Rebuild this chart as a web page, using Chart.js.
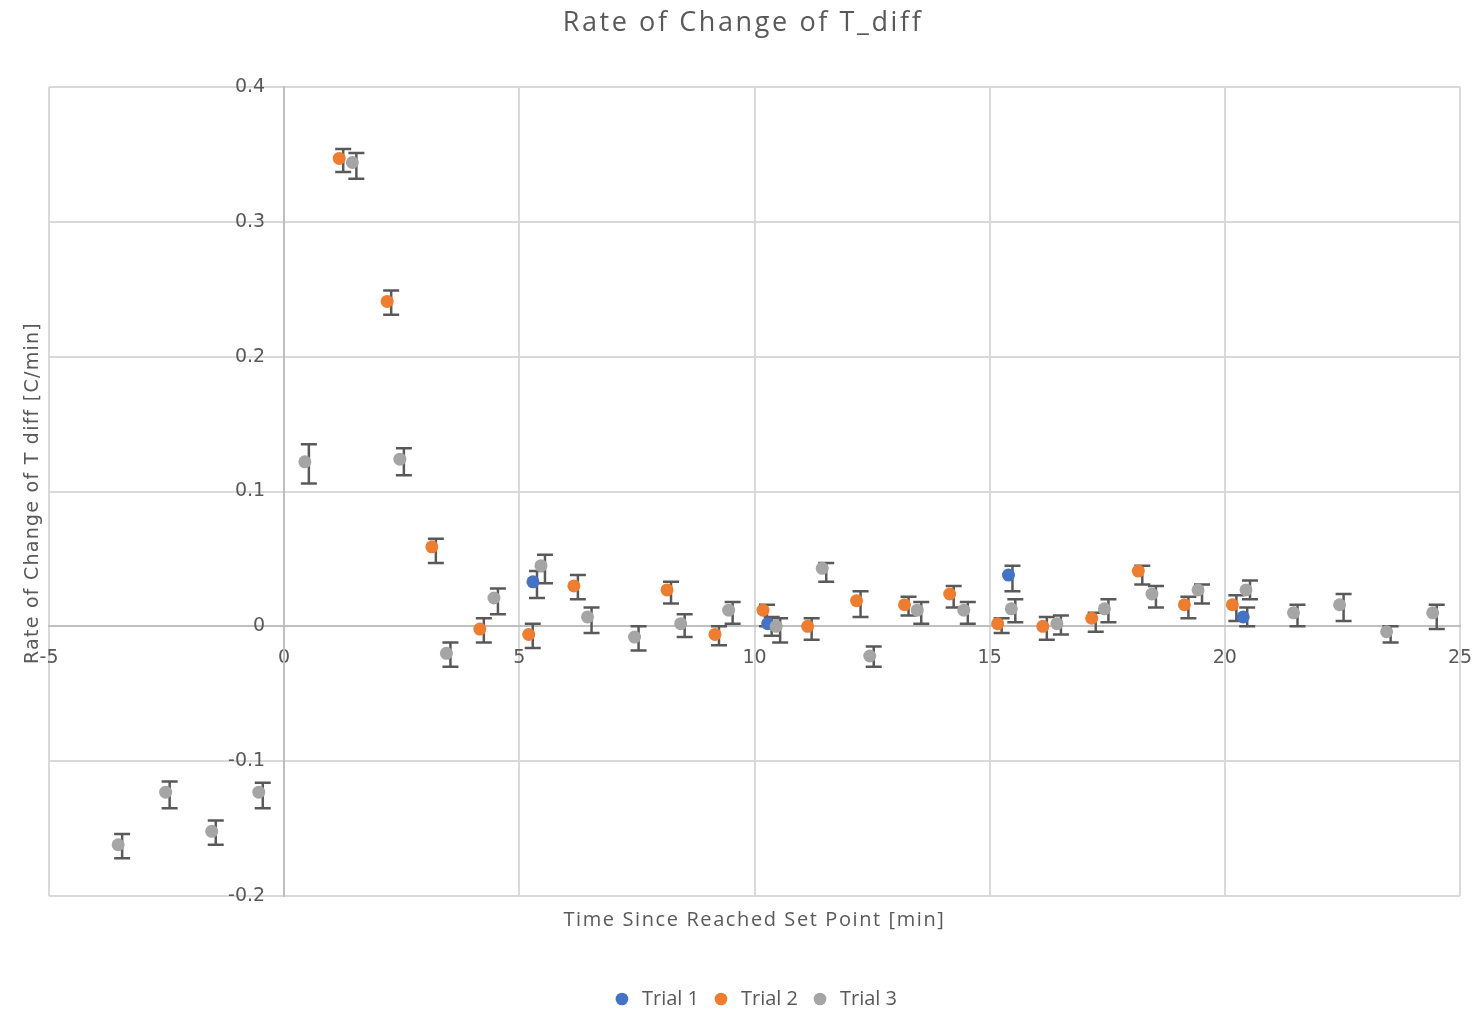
<!DOCTYPE html>
<html>
<head>
<meta charset="utf-8">
<title>Rate of Change of T_diff</title>
<script src="https://cdn.jsdelivr.net/npm/chart.js@4/dist/chart.umd.min.js"></script>
<style>
  html, body { margin: 0; padding: 0; background: #ffffff; }
  #wrap { width: 1476px; height: 1010px; position: relative; }
</style>
</head>
<body>
<div id="wrap"><canvas id="chart" width="1476" height="1010"></canvas></div>
<script>
// Series: time since set point [min], rate of change [C/min], and error bar extents
const trial1X = [5.29, 10.28, 15.40, 20.39];
const trial1Y = [0.033, 0.002, 0.038, 0.007];
const trial1ErrPlus = [0.008, 0.005, 0.007, 0.007];
const trial1ErrMinus = [0.012, 0.009, 0.012, 0.007];

const trial2X = [1.17, 2.19, 3.14, 4.16, 5.20, 6.16, 8.14, 9.16, 10.18, 11.13, 12.17, 13.19, 14.15, 15.17, 16.13, 17.17, 18.16, 19.14, 20.16];
const trial2Y = [0.347, 0.241, 0.059, -0.002, -0.006, 0.030, 0.027, -0.006, 0.012, 0.000, 0.019, 0.016, 0.024, 0.002, 0.000, 0.006, 0.041, 0.016, 0.016];
const trial2ErrPlus = [0.007, 0.008, 0.006, 0.008, 0.008, 0.008, 0.006, 0.006, 0.004, 0.006, 0.007, 0.006, 0.006, 0.004, 0.007, 0.004, 0.004, 0.006, 0.007];
const trial2ErrMinus = [0.010, 0.010, 0.012, 0.010, 0.010, 0.010, 0.010, 0.008, 0.012, 0.010, 0.012, 0.008, 0.010, 0.007, 0.010, 0.010, 0.010, 0.010, 0.012];

const trial3X = [-3.53, -2.52, -1.54, -0.54, 0.44, 1.45, 2.46, 3.45, 4.46, 5.46, 6.45, 7.45, 8.43, 9.45, 10.46, 11.44, 12.45, 13.46, 14.45, 15.46, 16.43, 17.44, 18.45, 19.43, 20.45, 21.46, 22.44, 23.44, 24.42];
const trial3Y = [-0.162, -0.123, -0.152, -0.123, 0.122, 0.344, 0.124, -0.020, 0.021, 0.045, 0.007, -0.008, 0.002, 0.012, 0.000, 0.043, -0.022, 0.012, 0.012, 0.013, 0.002, 0.013, 0.024, 0.027, 0.027, 0.010, 0.016, -0.004, 0.010];
const trial3ErrPlus = [0.008, 0.008, 0.008, 0.007, 0.013, 0.007, 0.008, 0.008, 0.007, 0.008, 0.007, 0.008, 0.007, 0.006, 0.006, 0.004, 0.007, 0.006, 0.006, 0.007, 0.006, 0.007, 0.006, 0.004, 0.007, 0.006, 0.008, 0.004, 0.006];
const trial3ErrMinus = [0.010, 0.012, 0.010, 0.012, 0.016, 0.012, 0.012, 0.010, 0.012, 0.013, 0.012, 0.010, 0.010, 0.010, 0.012, 0.010, 0.008, 0.010, 0.010, 0.010, 0.008, 0.010, 0.010, 0.010, 0.007, 0.010, 0.012, 0.008, 0.012];

const seriesNames = ['Trial 1', 'Trial 2', 'Trial 3'];
const seriesColors = ['#4472C4', '#ED7D31', '#A5A5A5'];

const xTicks = [-5, 0, 5, 10, 15, 20, 25];
const yTicks = [-0.2, -0.1, 0, 0.1, 0.2, 0.3, 0.4];

const chartTitle = 'Rate of Change of T_diff';
const xAxisTitle = 'Time Since Reached Set Point [min]';
const yAxisTitle = 'Rate of Change of T diff [C/min]';

const textColor = '#595959';
const gridColor = '#d9d9d9';
const axisColor = '#bfbfbf';

function toPoints(xs, ys) {
  return xs.map((x, i) => ({ x: x, y: ys[i] }));
}

// Vertical error bars with caps, drawn beneath the markers
const errorBarPlugin = {
  id: 'errorBars',
  beforeDatasetsDraw(chart) {
    const ctx = chart.ctx;
    const xs = chart.scales.x;
    const ys = chart.scales.y;
    const capHalf = 8;
    const shift = 4;
    ctx.save();
    ctx.strokeStyle = '#595959';
    ctx.lineWidth = 2.5;
    ctx.lineCap = 'butt';
    chart.data.datasets.forEach((ds, di) => {
      if (!chart.isDatasetVisible(di) || !ds.errorBars) return;
      ds.data.forEach((p, i) => {
        const px = xs.getPixelForValue(p.x) + shift;
        const top = ys.getPixelForValue(p.y + ds.errorBars.plus[i]);
        const bot = ys.getPixelForValue(p.y - ds.errorBars.minus[i]);
        ctx.beginPath();
        ctx.moveTo(px, top);
        ctx.lineTo(px, bot);
        ctx.moveTo(px - capHalf, top);
        ctx.lineTo(px + capHalf, top);
        ctx.moveTo(px - capHalf, bot);
        ctx.lineTo(px + capHalf, bot);
        ctx.stroke();
      });
    });
    ctx.restore();
  }
};

// Chart title and axis titles, set around the plot area with loose letter spacing
const titlesPlugin = {
  id: 'titles',
  afterDraw(chart) {
    const ctx = chart.ctx;
    const area = chart.chartArea;
    const cx = (area.left + area.right) / 2;
    ctx.save();
    ctx.fillStyle = textColor;
    ctx.textAlign = 'center';
    ctx.textBaseline = 'middle';

    ctx.font = '27px "Open Sans"';
    ctx.letterSpacing = '2.6px';
    ctx.fillText(chartTitle, chart.width / 2 + 5, 23);

    ctx.font = '20px "Open Sans"';
    ctx.letterSpacing = '1.6px';
    ctx.fillText(xAxisTitle, cx, area.bottom + 24);

    ctx.translate(33, 493);
    ctx.rotate(-Math.PI / 2);
    ctx.font = '19px "DejaVu Sans"';
    ctx.letterSpacing = '1.25px';
    ctx.fillText(yAxisTitle, 0, 0);
    ctx.restore();
  }
};

const datasets = [
  { x: trial1X, y: trial1Y, plus: trial1ErrPlus, minus: trial1ErrMinus },
  { x: trial2X, y: trial2Y, plus: trial2ErrPlus, minus: trial2ErrMinus },
  { x: trial3X, y: trial3Y, plus: trial3ErrPlus, minus: trial3ErrMinus }
].map((s, i) => ({
  label: seriesNames[i],
  data: toPoints(s.x, s.y),
  errorBars: { plus: s.plus, minus: s.minus },
  backgroundColor: seriesColors[i],
  borderColor: seriesColors[i],
  borderWidth: 0,
  pointRadius: 6.5,
  pointHoverRadius: 6.5,
  showLine: false,
  order: 3 - i
}));

// Axes cross at zero, so the edge padding for tick labels is not needed
const noEdgePadding = (scale) => {
  scale.paddingLeft = 0;
  scale.paddingRight = 0;
  scale.paddingTop = 0;
  scale.paddingBottom = 0;
};

new Chart(document.getElementById('chart'), {
  type: 'scatter',
  data: { datasets: datasets },
  plugins: [errorBarPlugin, titlesPlugin],
  options: {
    responsive: false,
    animation: false,
    layout: { padding: { left: 49, right: 16, top: 87, bottom: -9 } },
    plugins: {
      title: { display: false },
      legend: {
        display: true,
        position: 'bottom',
        title: {
          display: true,
          text: ' ',
          font: { size: 10 },
          padding: { top: 0, bottom: 69 }
        },
        labels: {
          usePointStyle: true,
          pointStyle: 'circle',
          boxHeight: 9,
          color: textColor,
          font: { family: 'Open Sans', size: 20 },
          padding: 12,
          sort: (a, b) => a.datasetIndex - b.datasetIndex
        }
      },
      tooltip: { enabled: false }
    },
    scales: {
      x: {
        type: 'linear',
        min: xTicks[0],
        max: xTicks[xTicks.length - 1],
        position: { y: 0 },
        afterBuildTicks: (axis) => { axis.ticks = xTicks.map(v => ({ value: v })); },
        afterFit: noEdgePadding,
        ticks: {
          color: textColor,
          font: { family: 'DejaVu Sans', size: 19 },
          padding: 20,
          maxRotation: 0,
          callback: (v) => String(v)
        },
        grid: {
          color: (c) => (c.tick && c.tick.value === 0 ? axisColor : gridColor),
          lineWidth: 2,
          drawTicks: false
        },
        border: { color: axisColor, width: 2 }
      },
      y: {
        type: 'linear',
        min: yTicks[0],
        max: yTicks[yTicks.length - 1],
        position: { x: 0 },
        afterBuildTicks: (axis) => { axis.ticks = yTicks.map(v => ({ value: v })); },
        afterFit: noEdgePadding,
        ticks: {
          color: textColor,
          font: { family: 'DejaVu Sans', size: 19 },
          callback: (v) => String(Number(v.toFixed(1))) + '\u2002\u2002'
        },
        grid: {
          color: (c) => (c.tick && Math.abs(c.tick.value) < 1e-9 ? axisColor : gridColor),
          lineWidth: 2,
          drawTicks: false
        },
        border: { color: axisColor, width: 2 }
      }
    }
  }
});
</script>
</body>
</html>
